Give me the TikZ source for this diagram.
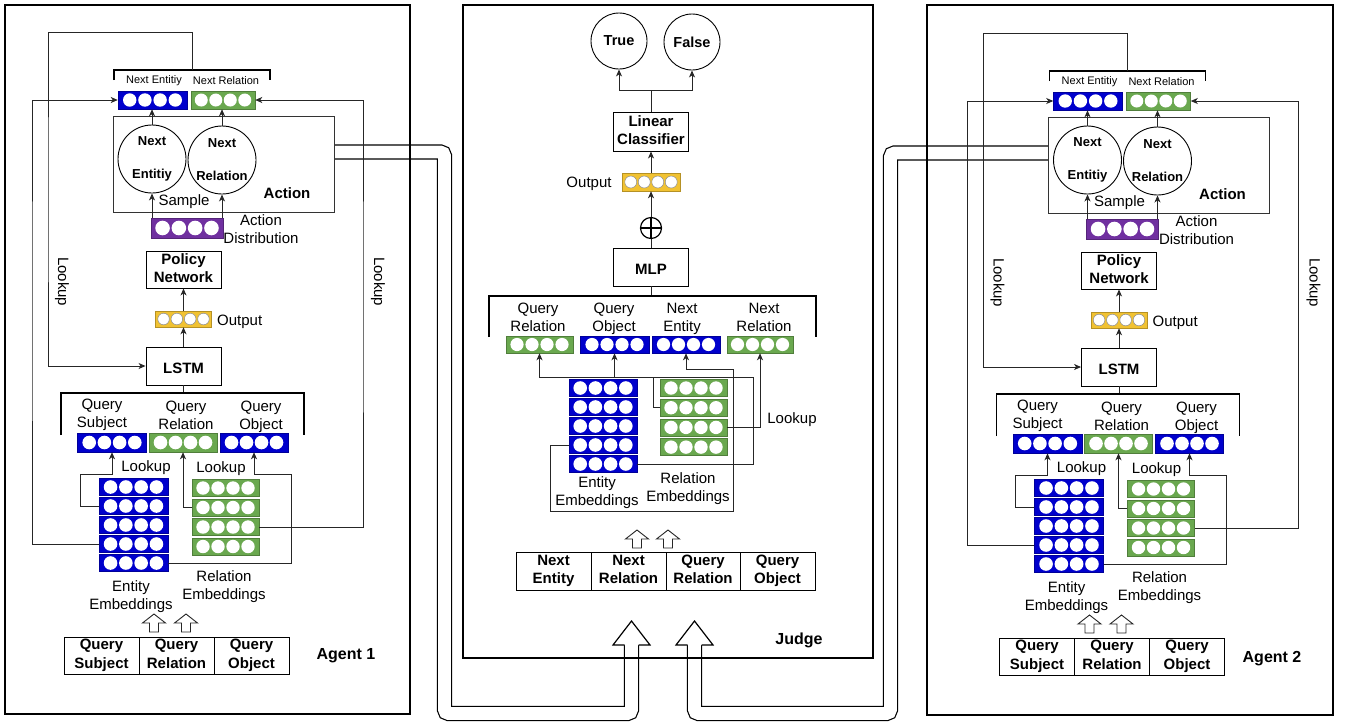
\documentclass[tikz,border=0pt]{standalone}
\usepackage{fontspec}
\setmainfont{Liberation Sans}
\usetikzlibrary{arrows.meta,calc,backgrounds}

\definecolor{vblue}{RGB}{0,0,204}
\definecolor{vgreen}{RGB}{106,168,79}
\definecolor{vpurple}{RGB}{112,48,160}
\definecolor{vyellow}{RGB}{241,194,50}

% four white dots on an embedding vector
\newcommand{\vecdots}[4]{%
  \foreach \k in {-1.5,-0.5,0.5,1.5}
    \path[#4] ($(#1.center)+(\k*#2,0)$) circle (#3pt);
}
% small hollow up arrow, tip at (#1,#2)
\newcommand{\hollowup}[2]{%
  \draw[conn, fill=white] ({#1-4.5},{#2+18}) -- ({#1-4.5},{#2+9}) -- ({#1-11.5},{#2+9})
    -- (#1,#2) -- ({#1+11.5},{#2+9}) -- ({#1+4.5},{#2+9}) -- ({#1+4.5},{#2+18}) -- cycle;
}

\tikzset{
  conn/.style={line width=0.9pt, draw=black!85},
  arr/.style={conn, -{Stealth[length=7pt, width=6pt, inset=2pt]}},
  bracketline/.style={line width=1.6pt},
  panel/.style={draw, line width=2.6pt, inner sep=0pt},
  box/.style={draw, line width=0.9pt, inner sep=0pt, align=center, font=\bfseries\fontsize{15}{18.5}\selectfont,
    execute at begin node=\rule{0pt}{18.5pt}, execute at end node=\vphantom{g}},
  vec/.style={fill=#1, draw=#1!75!black, line width=0.5pt, inner sep=0pt},
  txt/.style={align=center, font=\fontsize{15}{18}\selectfont, inner sep=0pt, yshift=-1.6pt,
    execute at end node=\vphantom{g}},
  btxt/.style={align=center, font=\bfseries\fontsize{15}{18}\selectfont, inner sep=0pt},
  smalltxt/.style={font=\fontsize{11}{13}\selectfont, inner sep=0pt},
  wdot/.style={fill=white},
  odot/.style={fill=white, draw=black!45, line width=0.5pt},
  ball/.style={draw, circle, line width=0.9pt, inner sep=0pt, align=center},
  pipe/.style={draw, double=white, double distance=12.8pt, line width=1.2pt, rounded corners=4pt},
}

\begin{document}
\begin{tikzpicture}[x=1pt, y=-1pt]
\useasboundingbox (0,0) rectangle (1348,724);

% outer panels
\node[panel, minimum width=405, minimum height=709] (agent1) at (207.5,359.5) {};
\node[panel, minimum width=410, minimum height=653] (judge) at (668,331.5) {};
\node[panel, minimum width=406, minimum height=710] (agent2) at (1130,360) {};

% the two agents
\foreach \i/\dx/\dy in {1/0/0, 2/935.5/1}{
\begin{scope}[shift={(\dx,\dy)}]
  % next entity / relation
  \draw[bracketline] (114,80) -- (114,70) -- (270,70) -- (270,80);
  \node[smalltxt] at (154,81) {Next Entitiy};
  \node[smalltxt] at (226,81) {Next Relation};
  \node[vec=vblue, minimum width=69, minimum height=18] (a\i-ne) at (152.5,100) {};
  \node[vec=vgreen, minimum width=64, minimum height=18] (a\i-nr) at (223,100) {};
  \vecdots{a\i-ne}{15.2}{6.7}{wdot}
  \vecdots{a\i-nr}{14.5}{6.5}{wdot}

  % action
  \node[draw=black!80, line width=0.9pt, minimum width=221, minimum height=96, inner sep=0pt] (a\i-act) at (223.5,164) {};
  \node[ball, minimum size=68, font=\bfseries\fontsize{13}{18}\selectfont] (a\i-cne) at (152,159) {Next\\[15pt]Entitiy};
  \node[ball, minimum size=68, font=\bfseries\fontsize{13}{18}\selectfont] (a\i-cnr) at (222,160) {Next\\[15pt]Relation};
  \node[btxt] at (287,193) {Action};
  \node[txt] at (184,200) {Sample};
  \draw[arr] (a\i-cne.north) -- (a\i-cne.north |- a\i-ne.south);
  \draw[arr] (a\i-cnr.north) -- (a\i-cnr.north |- a\i-nr.south);

  % action distribution
  \node[vec=vpurple, minimum width=72, minimum height=20] (a\i-dist) at (187,228) {};
  \vecdots{a\i-dist}{16.3}{7.3}{wdot}
  \node[txt] at (261,229.5) {Action\\Distribution};
  \draw[arr] (a\i-dist.north -| a\i-cne) -- (a\i-cne.south);
  \draw[arr] (a\i-dist.north -| a\i-cnr) -- (a\i-cnr.south);

  % policy and lstm
  \node[box, minimum width=75, minimum height=37] (a\i-pol) at (183.5,269.5) {Policy\\Network};
  \node[vec=vyellow, minimum width=56, minimum height=16] (a\i-out) at (183.5,319) {};
  \vecdots{a\i-out}{13.3}{5.8}{odot}
  \node[txt, anchor=west] at (217,320) {Output};
  \node[box, minimum width=75, minimum height=38] (a\i-lstm) at (183.5,366) {LSTM};
  \draw[arr] (a\i-out.north) -- (a\i-pol.south);
  \draw[arr] (a\i-lstm.north) -- (a\i-out.south);
  \draw[arr] (192,70) -- (192,32) -| (48,200) |- (a\i-lstm.west);

  % query vectors
  \draw[conn] (a\i-lstm.south) -- (183.5,393);
  \draw[bracketline] (61,435) -- (61,393) -- (304,393) -- (304,435);
  \node[txt] at (102,413) {Query\\Subject};
  \node[txt] at (186,415.5) {Query\\Relation};
  \node[txt] at (261,415.5) {Query\\Object};
  \node[vec=vblue, minimum width=69, minimum height=19] (a\i-qs) at (112,442.5) {};
  \node[vec=vgreen, minimum width=68, minimum height=19] (a\i-qr) at (183,442.5) {};
  \node[vec=vblue, minimum width=68, minimum height=19] (a\i-qo) at (254,442.5) {};
  \vecdots{a\i-qs}{15.2}{6.8}{wdot}
  \vecdots{a\i-qr}{15}{6.8}{wdot}
  \vecdots{a\i-qo}{15}{6.8}{wdot}

  % embeddings
  \foreach \r in {1,...,5}{
    \node[vec=vblue, minimum width=69, minimum height=17] (a\i-e\r) at (133.5,{468+19*\r}) {};
    \vecdots{a\i-e\r}{15.3}{6.8}{wdot}
  }
  \foreach \r in {1,...,4}{
    \node[vec=vgreen, minimum width=67, minimum height=17] (a\i-r\r) at (225.5,{468.5+19.5*\r}) {};
    \vecdots{a\i-r\r}{15}{6.7}{wdot}
  }
  \node[txt] at (131,595) {Entity\\Embeddings};
  \node[txt] at (224,585) {Relation\\Embeddings};

  % lookups
  \draw[arr] (a\i-e2.west) -| (80,474) -| (a\i-qs.south);
  \draw[arr] (a\i-r2.west) -| (a\i-qr.south);
  \draw[arr] (a\i-e5.east) -| (291,474) -| (a\i-qo.south);
  \node[txt] at (146,466) {Lookup};
  \node[txt] at (221,467) {Lookup};
  \draw[arr] (a\i-e4.west) -| (32,300) |- (a\i-ne.west);
  \draw[arr] (a\i-r3.east) -| (363,300) |- (a\i-nr.east);
  \node[txt, rotate=-90] at (62,280) {Lookup};
  \node[txt, rotate=-90] at (378,280) {Lookup};

  % query input
  \hollowup{154}{614}
  \hollowup{186}{614}
  \node[box, minimum width=75, minimum height=37] (a\i-tqs) at (101.5,655.5) {Query\\Subject};
  \node[box, minimum width=75, minimum height=37] (a\i-tqr) at (176.5,655.5) {Query\\Relation};
  \node[box, minimum width=75, minimum height=37] (a\i-tqo) at (251.5,655.5) {Query\\Object};
\end{scope}
}
\node[btxt, font=\bfseries\fontsize{16}{18}\selectfont] at (346,656) {Agent 1};
\node[btxt, font=\bfseries\fontsize{16}{18}\selectfont] at (1272,659) {Agent 2};

% judge
\node[ball, minimum size=56, font=\bfseries\fontsize{14.5}{17}\selectfont] (jtrue) at (619,41) {True};
\node[ball, minimum size=56, font=\bfseries\fontsize{14.5}{17}\selectfont] (jfalse) at (692,42) {False};
\node[box, minimum width=75, minimum height=39] (jlc) at (651,131.5) {Linear\\Classifier};
\coordinate (jsplit) at (651,90);
\draw[conn] (jlc.north) -- (jsplit);
\draw[arr] (jsplit) -| (jtrue.south);
\draw[arr] (jsplit) -| (jfalse.south);
\node[vec=vyellow, minimum width=58, minimum height=18] (jout) at (651,182) {};
\vecdots{jout}{13.5}{6}{odot}
\node[txt] at (589,182) {Output};
\draw[arr] (jout.north) -- (jlc.south);
\node[draw, circle, line width=1.2pt, minimum size=21, inner sep=0pt] (oplus) at (651,228) {};
\draw[line width=1.2pt] (oplus.north) -- (oplus.south) (oplus.west) -- (oplus.east);
\draw[arr] (oplus.north) -- (jout.south);
\node[box, minimum width=75, minimum height=38] (jmlp) at (651,267) {MLP};
\draw[conn] (jmlp.north) -- (oplus.south);
\draw[conn] (jmlp.south) -- (651,296);
\draw[bracketline] (489,337) -- (489,296) -- (816,296) -- (816,337);

\node[txt] at (538,317) {Query\\Relation};
\node[txt] at (614,317) {Query\\Object};
\node[txt] at (682,317) {Next\\Entity};
\node[txt] at (764,317) {Next\\Relation};
\node[vec=vgreen, minimum width=67, minimum height=17] (jqr) at (539.5,344.5) {};
\node[vec=vblue, minimum width=69, minimum height=17] (jqo) at (614.5,344.5) {};
\node[vec=vblue, minimum width=68, minimum height=17] (jne) at (686,344.5) {};
\node[vec=vgreen, minimum width=66, minimum height=17] (jnr) at (760,344.5) {};
\foreach \v in {jqr,jqo,jne,jnr}{
  \vecdots{\v}{15}{6.6}{wdot}
}

\foreach \r in {1,...,5}{
  \node[vec=vblue, minimum width=68, minimum height=17] (je\r) at (603,{369+19*\r}) {};
  \vecdots{je\r}{15.2}{6.8}{wdot}
}
\foreach \r in {1,...,4}{
  \node[vec=vgreen, minimum width=67, minimum height=17] (jr\r) at (693.5,{368.3+19.7*\r}) {};
  \vecdots{jr\r}{15}{6.7}{wdot}
}
\node[txt] at (597,491) {Entity\\Embeddings};
\node[txt] at (688,487) {Relation\\Embeddings};

\draw[arr] (je5.east) -| (753,377) -| (jqr.south);
\draw[arr] (jr2.west) -| (653,377) -| (jqo.south);
\draw[arr] (je4.west) -| (550,511) -| (733,369) -| (jne.south);
\draw[arr] (jr3.east) -| (jnr.south);
\node[txt] at (792,418) {Lookup};

\hollowup{637}{530}
\hollowup{668}{530}
\node[box, minimum width=75, minimum height=38] (jtne) at (553.5,571) {Next\\Entity};
\node[box, minimum width=75, minimum height=38] (jtnr) at (628.5,571) {Next\\Relation};
\node[box, minimum width=74, minimum height=38] (jtqr) at (703,571) {Query\\Relation};
\node[box, minimum width=75, minimum height=38] (jtqo) at (777.5,571) {Query\\Object};
\node[btxt, font=\bfseries\fontsize{16}{18}\selectfont] at (799,640) {Judge};

% pipes from the action boxes into the judge
\coordinate (p1s) at ($(a1-act.east)+(0,-12)$);
\coordinate (p2s) at ($(a2-act.west)+(0,-12)$);
\begin{scope}[on background layer]
  \draw[pipe] (p1s) -| (444.5,713.5) -| (631.5,645);
  \draw[pipe] (p2s) -| (890.5,713.5) -| (694.5,645);
\end{scope}
\filldraw[line width=1.2pt, fill=white] (624.5,645) -- (613,645) -- (631.5,621) -- (650,645) -- (638.5,645);
\filldraw[line width=1.2pt, fill=white] (687.5,645) -- (676,645) -- (694.5,621) -- (713,645) -- (701.5,645);

\end{tikzpicture}
\end{document}
